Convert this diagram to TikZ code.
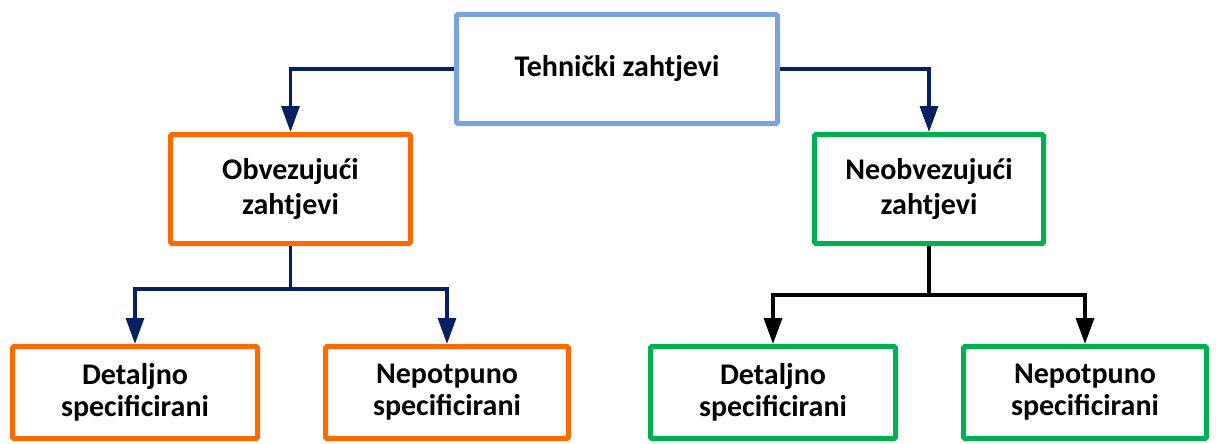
\documentclass[tikz,border=0pt]{standalone}
\usepackage{fontspec}
\setmainfont{Carlito}
\usetikzlibrary{arrows.meta}
\definecolor{bluebox}{HTML}{7BA3DB}
\definecolor{orangebox}{HTML}{FF6A00}
\definecolor{greenbox}{HTML}{00B050}
\definecolor{navy}{HTML}{062061}
\begin{document}
\begin{tikzpicture}[x=1pt,y=-1pt,
  box/.style={draw, line width=5pt, rounded corners=1.5pt, inner sep=0pt, align=center,
    font=\fontsize{30}{35}\selectfont\bfseries, text=black, fill=white},
  lowbox/.style={box, minimum height=92pt, font=\fontsize{30}{32}\selectfont\bfseries},
  conn/.style={line width=3.2pt, draw=navy},
  connk/.style={line width=3.4pt, draw=black},
  tip/.style={-{Triangle[width=18pt,length=26pt]}}]
\useasboundingbox (0,0) rectangle (1216,444);
\node[box, draw=bluebox, minimum width=321pt, minimum height=109pt] (top) at (617,69) {Tehnički zahtjevi};
\node[box, draw=orangebox, minimum width=240pt, minimum height=109pt] (obv) at (290.5,189) {Obvezujući\\zahtjevi};
\node[box, draw=greenbox, minimum width=229pt, minimum height=109pt] (neo) at (929,189) {Neobvezujući\\zahtjevi};
\node[lowbox, draw=orangebox, minimum width=245pt] (d1) at (135,392.5) {Detaljno\\specificirani};
\node[lowbox, draw=orangebox, minimum width=243pt] (n1) at (447,392.5) {Nepotpuno\\specificirani};
\node[lowbox, draw=greenbox, minimum width=245pt] (d2) at (773,392.5) {Detaljno\\specificirani};
\node[lowbox, draw=greenbox, minimum width=243pt] (n2) at (1085,392.5) {Nepotpuno\\specificirani};
\coordinate (j1) at (290.5,289);
\coordinate (j2) at (929,295);
\draw[conn, tip] (top.west) -| (obv.north);
\draw[conn, tip] (top.east) -| (neo.north);
\draw[conn] (obv.south) -- (j1);
\draw[conn, tip] (j1) -| (d1.north);
\draw[conn, tip] (j1) -| (n1.north);
\draw[connk] (neo.south) -- (j2);
\draw[connk, tip] (j2) -| (d2.north);
\draw[connk, tip] (j2) -| (n2.north);
\end{tikzpicture}
\end{document}
